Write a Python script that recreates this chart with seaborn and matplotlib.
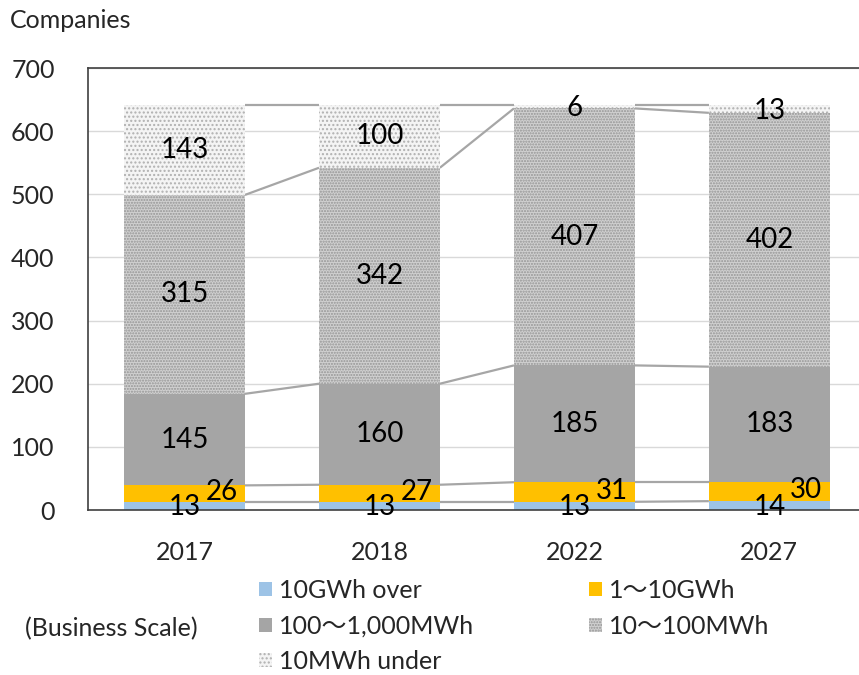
import numpy as np
import pandas as pd
import matplotlib
matplotlib.use("Agg")
import matplotlib.pyplot as plt
from matplotlib.patches import Patch
import seaborn as sns

years = ["2017", "2018", "2022", "2027"]
series_names = ["10GWh over", "1～10GWh", "100～1,000MWh", "10～100MWh", "10MWh under"]
v_10gwh_over = [13, 13, 13, 14]
v_1_10gwh = [26, 27, 31, 30]
v_100_1000mwh = [145, 160, 185, 183]
v_10_100mwh = [315, 342, 407, 402]
v_10mwh_under = [143, 100, 6, 13]
y_ticks = [0, 100, 200, 300, 400, 500, 600, 700]

sns.set_theme(style="white")
FAM = ["Lato", "Noto Sans CJK JP", "DejaVu Sans"]
plt.rcParams["font.family"] = FAM
plt.rcParams["hatch.linewidth"] = 1.0

layers = [v_10gwh_over, v_1_10gwh, v_100_1000mwh, v_10_100mwh, v_10mwh_under]
styles = [
    dict(facecolor="#9DC3E6", hatch=None, edgecolor="#9DC3E6"),
    dict(facecolor="#FFC000", hatch=None, edgecolor="#FFC000"),
    dict(facecolor="#A5A5A5", hatch=None, edgecolor="#A5A5A5"),
    dict(facecolor="#d0d0d0", hatch="......", edgecolor="#959595"),
    dict(facecolor="#f4f4f4", hatch="....", edgecolor="#b0b0b0"),
]

cum = np.cumsum(np.array(layers), axis=0)

fig = plt.figure(figsize=(8.59, 6.75), dpi=100)
ax = fig.add_axes([88 / 859, 1 - 510 / 675, 1 - 88 / 859, (510 - 68) / 675])

width = 0.62
for i in range(len(layers) - 1, -1, -1):
    df = pd.DataFrame({"year": years, "value": cum[i]})
    st = styles[i]
    sns.barplot(data=df, x="year", y="value", ax=ax, width=width,
                color=st["facecolor"], saturation=1, linewidth=0, zorder=2)
    for p in ax.patches[-len(years):]:
        p.set_facecolor(st["facecolor"])
        p.set_edgecolor(st["edgecolor"])
        p.set_linewidth(0)
        if st["hatch"]:
            p.set_hatch(st["hatch"])

# series lines
for i in range(len(layers)):
    for j in range(len(years) - 1):
        ax.plot([j + width / 2, j + 1 - width / 2], [cum[i][j], cum[i][j + 1]],
                color="#a6a6a6", lw=1.6, zorder=1.5, solid_capstyle="butt")

# data labels
for i, vals in enumerate(layers):
    for j, v in enumerate(vals):
        bottom = cum[i][j] - v
        yc = bottom + v / 2
        xc = j
        if i == 0:
            yc = 4
        elif i == 1:
            xc = j + 0.19
            yc = bottom + v / 2 + 2
        elif i == 4:
            yc = bottom + v / 2 - 3 if v < 20 else yc
        ax.text(xc, yc, str(v), ha="center", va="center", fontsize=20,
                color="black", family=FAM, zorder=5)

ax.set_xlim(-0.495, 3.46)
ax.set_ylim(0, 700)
ax.set_yticks(y_ticks)
ax.set_yticklabels([str(t) for t in y_ticks])
ax.set_xlabel("")
ax.set_ylabel("")
ax.tick_params(axis="y", length=0, pad=24, labelsize=18)
ax.tick_params(axis="x", length=0, pad=22, labelsize=18)
ax.yaxis.grid(True, color="#d9d9d9", lw=1, zorder=0)
ax.set_axisbelow(True)
for s in ["left", "top", "bottom"]:
    ax.spines[s].set_color("#404040")
    ax.spines[s].set_linewidth(1.2)
ax.spines["right"].set_visible(False)

fig.text(10 / 859, 1 - 20 / 675, "Companies", ha="left", va="center", fontsize=18, family=FAM)
fig.text(25 / 859, 1 - 629 / 675, "(Business Scale)", ha="left", va="center", fontsize=18, family=FAM)

handles = [Patch(facecolor=st["facecolor"], edgecolor=st["edgecolor"], hatch=st["hatch"], linewidth=0)
           for st in styles]
order = [0, 2, 4, 1, 3]
leg = fig.legend([handles[k] for k in order], [series_names[k] for k in order],
                 ncol=2, loc="upper left", bbox_to_anchor=(259 / 859, 1 - 579 / 675),
                 frameon=False, handlelength=0.5, handleheight=0.5, handletextpad=0.3,
                 columnspacing=4.6, labelspacing=0.5, prop={"family": FAM, "size": 18},
                 borderaxespad=0, borderpad=0)

fig.savefig("out.png", dpi=100)
